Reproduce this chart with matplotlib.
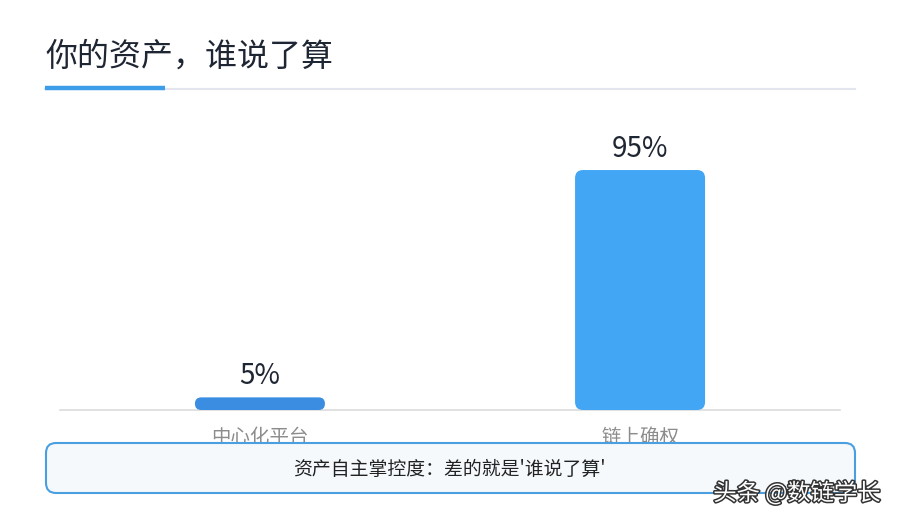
import matplotlib
matplotlib.use("Agg")
import matplotlib.pyplot as plt
from matplotlib.patches import FancyBboxPatch
from matplotlib.lines import Line2D
import matplotlib.patheffects as pe

plt.rcParams['font.family'] = ['Noto Sans CJK SC', 'DejaVu Sans']

title = '你的资产，谁说了算'
categories = ['中心化平台', '链上确权']
values = [5, 95]
value_labels = ['5%', '95%']
bar_colors = ['#3a8de0', '#42a6f5']
note = "资产自主掌控度：差的就是'谁说了算'"
watermark = '头条 @数链学长'

W, H = 900, 520
fig = plt.figure(figsize=(9, 5.2), dpi=100)
fig.patch.set_facecolor('white')

# title and underline
fig.text(45 / W, 1 - 57 / H, title, fontsize=23, color='#1f2633',
         ha='left', va='center')
fig.add_artist(Line2D([45 / W, 855 / W], [1 - 89 / H, 1 - 89 / H],
                      transform=fig.transFigure, color='#e3e6ee', lw=1.5))
fig.add_artist(Line2D([45 / W, 165 / W], [1 - 88 / H, 1 - 88 / H],
                      transform=fig.transFigure, color='#3d9de8', lw=3.2,
                      solid_capstyle='butt'))

# bar axes
ax = fig.add_axes([60 / W, 1 - 410 / H, 780 / W, 252.6 / H])
ax.set_xlim(-0.526, 1.526)
ax.set_ylim(0, 100)
for s in ['top', 'right', 'left']:
    ax.spines[s].set_visible(False)
ax.spines['bottom'].set_color('#dcdcdc')
ax.spines['bottom'].set_linewidth(1.2)
ax.set_yticks([])
ax.set_xticks(range(len(categories)))
ax.set_xticklabels(categories, fontsize=14, color='#8c8c8c')
ax.tick_params(axis='x', length=0, pad=12)
ax.patch.set_alpha(0)

bw = 0.342
px_x = 780 / (ax.get_xlim()[1] - ax.get_xlim()[0])
px_y = 252.6 / 100
aspect = px_x / px_y
for i, (v, c, lab) in enumerate(zip(values, bar_colors, value_labels)):
    h_px = v * px_y
    r_px = min(8, h_px / 2)
    r = r_px / px_x
    p = FancyBboxPatch((i - bw / 2, 0), bw, v,
                       boxstyle='round,pad=0,rounding_size=%f' % r,
                       mutation_aspect=aspect, fc=c, ec='none', zorder=3)
    ax.add_patch(p)
    ax.text(i, v + 2.5, lab, ha='center', va='bottom', fontsize=20,
            color='#1f2633', clip_on=False)

# note box
bx0, bx1, by0, by1 = 46, 855, 443, 493
box = FancyBboxPatch((bx0 / W, 1 - by1 / H), (bx1 - bx0) / W, (by1 - by0) / H,
                     boxstyle='round,pad=0,rounding_size=%f' % (10 / W),
                     mutation_aspect=W / H, transform=fig.transFigure,
                     fc='#f5f9fc', ec='#4a9fe0', lw=1.5, zorder=5)
fig.add_artist(box)
fig.text(449 / W, 1 - 469 / H, note, fontsize=13.6, color='#222222',
         ha='center', va='center', zorder=6)

# watermark
fig.text(797 / W, 1 - 493 / H, watermark, fontsize=16.8, color='white',
         ha='center', va='center', zorder=7,
         path_effects=[pe.withStroke(linewidth=2.2, foreground='#333333')])

fig.savefig('out.png', dpi=100)
